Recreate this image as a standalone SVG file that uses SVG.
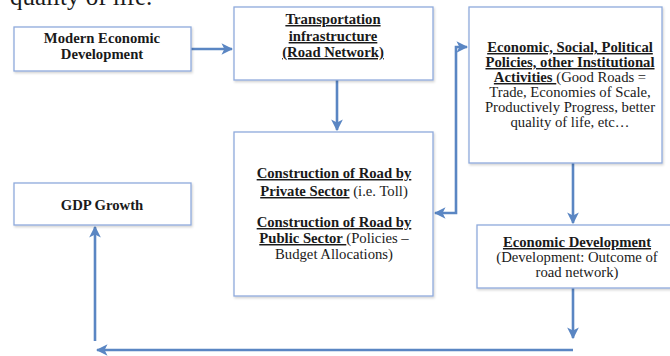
<svg xmlns="http://www.w3.org/2000/svg" width="670" height="356" viewBox="0 0 670 356">
<style>
  .box { fill: #ffffff; stroke: #8FAADC; stroke-width: 1.3; filter: url(#sh); }
  .t { font-family: "Liberation Serif", "Times New Roman", serif; font-size: 14.7px; fill: #1a1a1a; text-anchor: middle; }
  .b { font-weight: bold; }
  .u { text-decoration: underline; }
  .c { fill: none; stroke: #5A86C3; stroke-width: 2.6; }
</style>
<defs>
  <filter id="sh" x="-5%" y="-5%" width="110%" height="115%">
    <feDropShadow dx="1" dy="1.5" stdDeviation="0.8" flood-color="#000000" flood-opacity="0.18"/>
  </filter>
  <marker id="ah" viewBox="0 0 10 10" refX="9" refY="5" markerWidth="4.5" markerHeight="4.5" orient="auto-start-reverse" markerUnits="strokeWidth">
    <path d="M0,0 L10,5 L0,10 L2.5,5 Z" fill="#5A86C3"/>
  </marker>
</defs>
<rect width="670" height="356" fill="#ffffff"/>
<text x="10" y="5" font-family="Liberation Serif, serif" font-size="25" fill="#1a1a1a">quality of life.</text>

<g id="connectors">
  <path class="c" d="M191,49 H232" marker-end="url(#ah)"/>
  <path class="c" d="M337,80 V130" marker-end="url(#ah)"/>
  <path class="c" d="M435,213 H456 V47 H467" marker-start="url(#ah)" marker-end="url(#ah)"/>
  <path class="c" d="M573,163 V223" marker-end="url(#ah)"/>
  <path class="c" d="M573,288 V338" marker-end="url(#ah)"/>
  <path class="c" d="M573,350 H97" marker-end="url(#ah)"/>
  <path class="c" d="M95,341 V227" marker-end="url(#ah)"/>
</g>

<g id="modern">
  <rect class="box" x="14" y="27" width="177" height="44"/>
  <text class="t b" x="102" y="43">Modern Economic</text>
  <text class="t b" x="102" y="59">Development</text>
</g>

<g id="transport">
  <rect class="box" x="234" y="7" width="199" height="73"/>
  <text class="t b u" x="333" y="24">Transportation</text>
  <text class="t b u" x="333" y="41">infrastructure</text>
  <text class="t b u" x="333" y="57">(Road Network)</text>
</g>

<g id="construction">
  <rect class="box" x="234" y="132" width="199" height="164"/>
  <text class="t b u" x="334" y="178">Construction of Road by</text>
  <text class="t" x="334" y="196"><tspan class="b u">Private Sector</tspan> (i.e. Toll)</text>
  <text class="t b u" x="334" y="227">Construction of Road by</text>
  <text class="t" x="334" y="243"><tspan class="b u">Public Sector </tspan>(Policies –</text>
  <text class="t" x="334" y="259">Budget Allocations)</text>
</g>

<g id="policies">
  <rect class="box" x="469" y="7" width="193" height="156"/>
  <text class="t b u" x="570" y="52">Economic, Social, Political</text>
  <text class="t b u" x="570" y="67">Policies, other Institutional</text>
  <text class="t" x="570" y="82"><tspan class="b u">Activities </tspan>(Good Roads =</text>
  <text class="t" x="570" y="97">Trade, Economies of Scale,</text>
  <text class="t" x="570" y="112">Productively Progress, better</text>
  <text class="t" x="570" y="127">quality of life, etc…</text>
</g>

<g id="econdev">
  <rect class="box" x="477" y="225" width="200" height="63"/>
  <text class="t b u" x="577" y="247">Economic Development</text>
  <text class="t" x="577" y="262">(Development: Outcome of</text>
  <text class="t" x="577" y="277">road network)</text>
</g>

<g id="gdp">
  <rect class="box" x="14" y="183" width="177" height="42"/>
  <text class="t b" x="102" y="210">GDP Growth</text>
</g>
</svg>
